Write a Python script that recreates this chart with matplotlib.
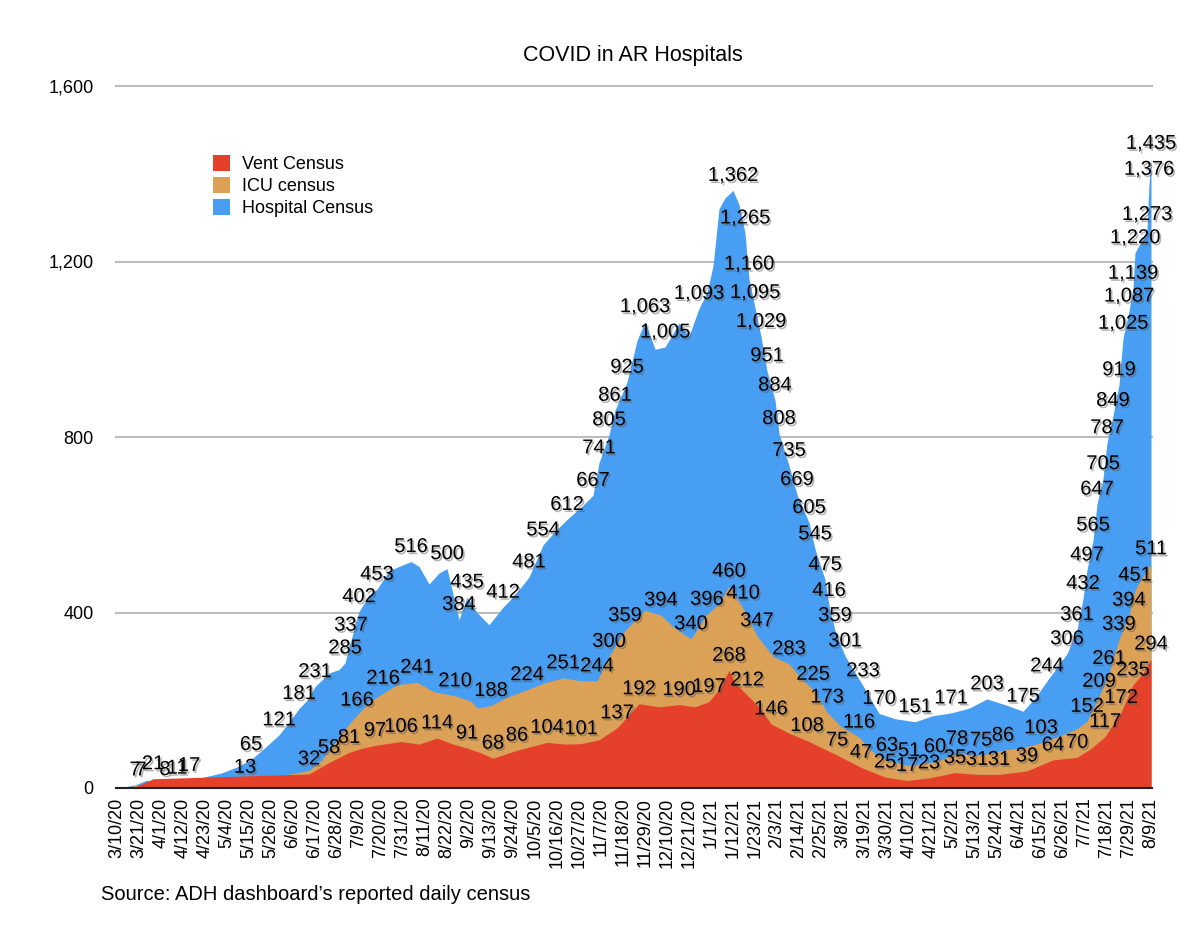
import matplotlib
matplotlib.use('Agg')
import matplotlib.pyplot as plt
import matplotlib.patheffects as pe
from matplotlib.patches import Patch
import pandas as pd

plt.rcParams['font.family'] = ['Liberation Sans', 'DejaVu Sans']

# ---------------- data ----------------
# each entry: date, value, 1 if the value carries a data label
hosp_dates = ["3/10/20", "3/19/20", "3/25/20", "3/29/20", "4/3/20", "4/9/20", "4/15/20", "5/1/20", "5/9/20",
              "5/16/20", "5/22/20", "5/30/20", "6/4/20", "6/9/20", "6/13/20", "6/17/20", "6/24/20", "6/29/20",
              "7/2/20", "7/5/20", "7/9/20", "7/14/20", "7/18/20", "7/24/20", "7/29/20", "8/4/20", "8/8/20",
              "8/13/20", "8/18/20", "8/22/20", "8/28/20", "9/1/20", "9/6/20", "9/12/20", "9/19/20", "9/25/20",
              "10/2/20", "10/9/20", "10/15/20", "10/21/20", "10/28/20", "11/3/20", "11/6/20", "11/11/20",
              "11/14/20", "11/20/20", "11/25/20", "11/29/20", "12/4/20", "12/9/20", "12/16/20", "12/21/20",
              "12/26/20", "12/30/20", "1/2/21", "1/5/21", "1/8/21", "1/12/21", "1/15/21", "1/18/21", "1/20/21",
              "1/23/21", "1/26/21", "1/29/21", "2/2/21", "2/4/21", "2/9/21", "2/13/21", "2/19/21", "2/22/21",
              "2/27/21", "3/1/21", "3/4/21", "3/9/21", "3/18/21", "3/26/21", "4/3/21", "4/13/21", "4/22/21",
              "5/1/21", "5/10/21", "5/19/21", "5/28/21", "6/6/21", "6/12/21", "6/18/21", "6/28/21", "7/3/21",
              "7/6/21", "7/8/21", "7/11/21", "7/13/21", "7/16/21", "7/18/21", "7/21/21", "7/24/21", "7/26/21",
              "7/29/21", "7/31/21", "8/1/21", "8/4/21", "8/7/21", "8/8/21", "8/9/21"]
hosp_values = [0, 7, 18, 10, 8, 11, 17, 34, 48,
               65, 88, 121, 150, 181, 200, 231, 262, 270,
               285, 337, 402, 440, 453, 495, 505, 516, 505,
               465, 490, 500, 384, 435, 400, 372, 412, 440,
               481, 554, 585, 612, 640, 667, 741, 805,
               861, 925, 1020, 1063, 1000, 1005, 1060, 1030,
               1093, 1130, 1190, 1320, 1345, 1362, 1330, 1265, 1160,
               1095, 1029, 951, 884, 808, 735, 669, 605, 545,
               475, 416, 359, 301, 233, 170, 158, 151, 165,
               171, 182, 203, 190, 175, 205, 244, 306, 361,
               432, 497, 565, 647, 705, 787, 849, 919, 1025,
               1087, 1139, 1220, 1245, 1273, 1376, 1435]
hosp_labeled = [0, 1, 0, 0, 1, 1, 1, 0, 0,
                1, 0, 1, 0, 1, 0, 1, 0, 0,
                1, 1, 1, 0, 1, 0, 0, 1, 0,
                0, 0, 1, 1, 1, 0, 0, 1, 0,
                1, 1, 0, 1, 0, 1, 1, 1,
                1, 1, 0, 1, 0, 1, 0, 0,
                1, 0, 0, 0, 0, 1, 0, 1, 1,
                1, 1, 1, 1, 1, 1, 1, 1, 1,
                1, 1, 1, 1, 1, 1, 0, 1, 0,
                1, 0, 1, 0, 1, 0, 1, 1, 1,
                1, 1, 1, 1, 1, 1, 1, 1, 1,
                1, 1, 1, 0, 1, 1, 1]

icu_dates = ["3/10/20", "3/22/20", "4/15/20", "5/13/20", "6/14/20", "6/20/20", "6/28/20", "7/3/20", "7/8/20",
             "7/14/20", "7/21/20", "7/28/20", "8/7/20", "8/15/20", "8/26/20", "9/3/20", "9/6/20", "9/13/20",
             "9/20/20", "10/1/20", "10/10/20", "10/19/20", "10/27/20", "11/5/20", "11/11/20", "11/19/20",
             "11/29/20", "12/7/20", "12/13/20", "12/22/20", "12/30/20", "1/5/21", "1/10/21", "1/17/21",
             "1/24/21", "2/1/21", "2/9/21", "2/15/21", "2/21/21", "2/28/21", "3/7/21", "3/16/21", "3/22/21",
             "3/30/21", "4/10/21", "4/23/21", "5/4/21", "5/16/21", "5/27/21", "6/6/21", "6/15/21", "6/25/21",
             "7/3/21", "7/8/21", "7/14/21", "7/19/21", "7/24/21", "7/29/21", "8/1/21", "8/6/21", "8/9/21"]
icu_values = [0, 7, 10, 13, 40, 62, 110, 140, 166,
              195, 216, 235, 241, 220, 210, 198, 182, 188,
              205, 224, 240, 251, 245, 244, 300, 359,
              405, 394, 367, 340, 396, 420, 460, 410,
              347, 300, 283, 250, 225, 173, 140, 116, 85,
              63, 51, 60, 78, 75, 86, 92, 103, 120,
              135, 152, 209, 261, 339, 394, 451, 490, 511]
icu_labeled = [0, 1, 0, 1, 0, 0, 0, 0, 1,
               0, 1, 0, 1, 0, 1, 0, 0, 1,
               0, 1, 0, 1, 0, 1, 1, 1,
               0, 1, 0, 1, 1, 0, 1, 1,
               1, 0, 1, 0, 1, 1, 0, 1, 0,
               1, 1, 1, 1, 1, 1, 0, 1, 0,
               0, 1, 1, 1, 1, 1, 1, 0, 1]

vent_dates = ["3/10/20", "3/18/20", "3/28/20", "6/14/20", "6/24/20", "7/4/20", "7/10/20", "7/17/20", "7/30/20",
              "8/8/20", "8/17/20", "8/25/20", "9/1/20", "9/8/20", "9/14/20", "9/26/20", "10/11/20", "10/20/20",
              "10/28/20", "11/6/20", "11/15/20", "11/26/20", "12/6/20", "12/16/20", "12/24/20", "12/31/20",
              "1/5/21", "1/10/21", "1/13/21", "1/19/21", "1/25/21", "1/31/21", "2/9/21", "2/18/21", "3/5/21",
              "3/17/21", "3/29/21", "4/9/21", "4/20/21", "5/3/21", "5/14/21", "5/25/21", "6/8/21", "6/21/21",
              "7/3/21", "7/10/21", "7/17/21", "7/25/21", "7/31/21", "8/5/21", "8/9/21"]
vent_values = [0, 0, 21, 32, 58, 81, 90, 97, 106,
               100, 114, 100, 91, 80, 68, 86, 104, 100,
               101, 110, 137, 192, 185, 190, 185, 197,
               225, 268, 240, 212, 185, 146, 125, 108, 75,
               47, 25, 17, 23, 35, 31, 31, 39, 64,
               70, 90, 117, 172, 235, 262, 294]
vent_labeled = [0, 0, 1, 1, 1, 1, 0, 1, 1,
                0, 1, 0, 1, 0, 1, 1, 1, 0,
                1, 0, 1, 1, 0, 1, 0, 1,
                0, 1, 0, 1, 0, 1, 0, 1, 1,
                1, 1, 1, 1, 1, 1, 1, 1, 1,
                1, 0, 1, 1, 1, 0, 1]

series_names = ["Vent Census", "ICU census", "Hospital Census"]
colors = {"Hospital Census": "#479ef3", "ICU census": "#dba156", "Vent Census": "#e5402a"}

y_ticks = [0, 400, 800, 1200, 1600]
start_date, end_date = "3/10/20", "8/9/21"
tick_step_days = 11

# ---------------- figure ----------------
W, H = 1200, 941
fig = plt.figure(figsize=(W / 100, H / 100), dpi=100)
ax_l, ax_r, ax_b, ax_t = 116, 1152, 788, 86
ax = fig.add_axes([ax_l / W, 1 - ax_b / H, (ax_r - ax_l) / W, (ax_b - ax_t) / H])

fmt = "%m/%d/%y"
data = {
    "Hospital Census": (pd.to_datetime(hosp_dates, format=fmt), hosp_values, hosp_labeled),
    "ICU census": (pd.to_datetime(icu_dates, format=fmt), icu_values, icu_labeled),
    "Vent Census": (pd.to_datetime(vent_dates, format=fmt), vent_values, vent_labeled),
}

for z, name in enumerate(["Hospital Census", "ICU census", "Vent Census"]):
    d, v, _ = data[name]
    ax.fill_between(d, v, 0, color=colors[name], linewidth=0, zorder=2 + z)

shadow = [pe.SimplePatchShadow(offset=(1.2, -1.5), shadow_rgbFace='#555555', alpha=0.45), pe.Normal()]
for name in ["Hospital Census", "ICU census", "Vent Census"]:
    d, v, lab = data[name]
    for di, vi, li in zip(d, v, lab):
        if li:
            ax.annotate(f"{vi:,}", (di, vi), xytext=(0, 15), textcoords='offset pixels',
                        ha='center', va='center', fontsize=14.5, color='black',
                        zorder=10, path_effects=shadow, annotation_clip=False)

t0 = pd.to_datetime(start_date, format=fmt)
t1 = pd.to_datetime(end_date, format=fmt)
ax.set_xlim(t0 - pd.Timedelta(hours=12), t1 + pd.Timedelta(hours=12))
ax.set_ylim(0, 1600)

ticks = pd.date_range(t0, t1, freq=f"{tick_step_days}D")
ax.set_xticks(ticks)
ax.set_xticklabels([f"{t.month}/{t.day}/{t.year % 100}" for t in ticks], rotation=90,
                   fontsize=13, va='top', ha='center')
ax.set_yticks(y_ticks)
ax.set_yticklabels([f"{t:,}" for t in y_ticks], fontsize=13)
ax.tick_params(axis='x', length=0, pad=7)
ax.tick_params(axis='y', length=0, pad=16)

ax.yaxis.grid(True, color='#bcbcbc', linewidth=1.5, clip_on=False)
ax.set_axisbelow(True)
for s in ['top', 'right', 'left']:
    ax.spines[s].set_visible(False)
ax.spines['bottom'].set_color('#222222')
ax.spines['bottom'].set_linewidth(1.5)
ax.spines['bottom'].set_zorder(8)

handles = [Patch(facecolor=colors[n], edgecolor='none', label=n) for n in series_names]
ax.legend(handles=handles, loc='upper left',
          bbox_to_anchor=((213 - ax_l) / (ax_r - ax_l), (ax_b - 155) / (ax_b - ax_t)),
          frameon=False, fontsize=13, handlelength=0.95, handleheight=0.95,
          handletextpad=0.65, labelspacing=0.22, borderpad=0, borderaxespad=0)

fig.text(633 / W, 1 - 55 / H, "COVID in AR Hospitals", ha='center', va='center', fontsize=15.5)
fig.text(101 / W, 1 - 895 / H, "Source: ADH dashboard\u2019s reported daily census",
         ha='left', va='center', fontsize=14.5)

fig.savefig("out.png", dpi=100)
